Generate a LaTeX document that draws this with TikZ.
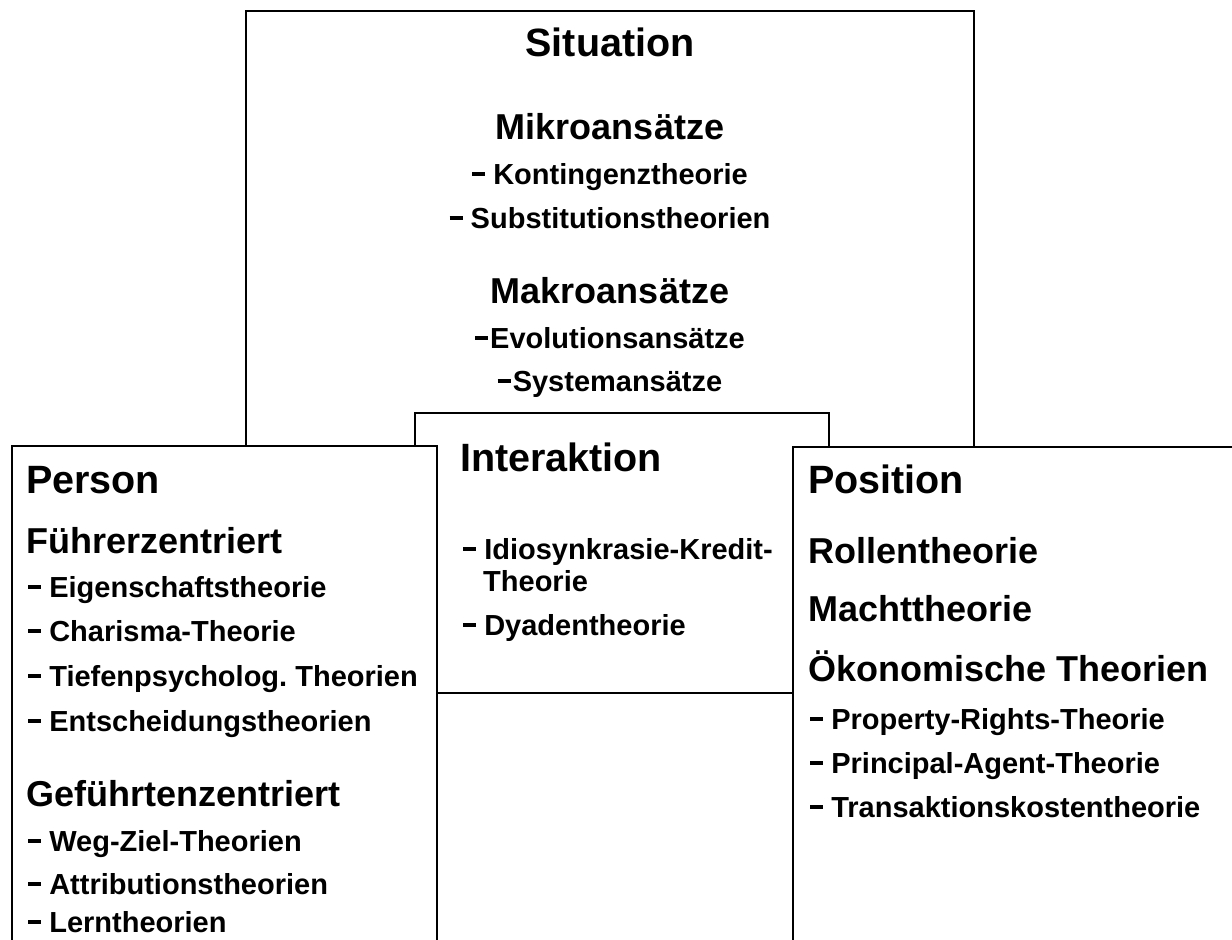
\documentclass[tikz,border=0pt]{standalone}
\usepackage{fontspec}
\setmainfont{Liberation Sans}
\frenchspacing
\newcommand\dsh{\rule[0.27em]{0.45em}{0.15em}}
\begin{document}
\begin{tikzpicture}[x=1pt,y=-1pt,
  frame/.style={draw=black, line width=2pt, fill=white},
  ttl/.style={font=\fontsize{39.5}{42}\selectfont\bfseries, inner sep=0pt},
  sub/.style={font=\fontsize{36}{40}\selectfont\bfseries, inner sep=0pt},
  itm/.style={font=\fontsize{29}{32}\selectfont\bfseries, inner sep=0pt},
  lft/.style={anchor=base west},
  ctr/.style={anchor=base}]
\useasboundingbox (0,0) rectangle (1232,940);
\clip (0,0) rectangle (1232,940);

% boxes, back to front
\path[frame] (246,11) rectangle (974,600);
\path[frame] (415,413) rectangle (829,693);
\path[frame] (12,446) rectangle (437,990);
\path[frame] (793,447) rectangle (1260,990);

% Situation
\node[ttl,ctr] (sit) at (610,56) {Situation};
\node[sub,ctr] (mikro) at (610,139) {Mikroansätze};
\node[itm,ctr] (kont) at (610,184) {\dsh\ Kontingenztheorie};
\node[itm,ctr] (subst) at (610,228) {\dsh\ Substitutionstheorien};
\node[sub,ctr] (makro) at (610,303) {Makroansätze};
\node[itm,ctr] (evol) at (610,348) {\dsh\kern2pt Evolutionsansätze};
\node[itm,ctr] (syst) at (610,391) {\dsh\kern2pt Systemansätze};

% Person
\node[ttl,lft] (pers) at (26,493) {Person};
\node[sub,lft] (fuehrer) at (26,553) {Führerzentriert};
\node[itm,lft] (eigen) at (28,597) {\dsh\ Eigenschaftstheorie};
\node[itm,lft] (charis) at (28,641) {\dsh\ Charisma-Theorie};
\node[itm,lft] (tiefen) at (28,686) {\dsh\ Tiefenpsycholog. Theorien};
\node[itm,lft] (entsch) at (28,731) {\dsh\ Entscheidungstheorien};
\node[sub,lft] (gefuehrt) at (26,806) {Geführtenzentriert};
\node[itm,lft] (weg) at (28,851) {\dsh\ Weg-Ziel-Theorien};
\node[itm,lft] (attr) at (28,894) {\dsh\ Attributionstheorien};
\node[itm,lft] (lern) at (28,932) {\dsh\ Lerntheorien};

% Interaktion
\node[ttl,lft] (inter) at (460,471) {Interaktion};
\node[itm,lft] (idio) at (463,559) {\dsh\ Idiosynkrasie-Kredit-};
\node[itm,lft] (idio2) at (483,591) {Theorie};
\node[itm,lft] (dyade) at (463,635) {\dsh\ Dyadentheorie};

% Position
\node[ttl,lft] (posi) at (808,493) {Position};
\node[sub,lft] (rolle) at (808,563) {Rollentheorie};
\node[sub,lft] (macht) at (808,621) {Machttheorie};
\node[sub,lft] (oekon) at (808,681) {Ökonomische Theorien};
\node[itm,lft] (prop) at (810,729) {\dsh\ Property-Rights-Theorie};
\node[itm,lft] (princ) at (810,773) {\dsh\ Principal-Agent-Theorie};
\node[itm,lft] (trans) at (810,817) {\dsh\ Transaktionskostentheorie};
\end{tikzpicture}
\end{document}
